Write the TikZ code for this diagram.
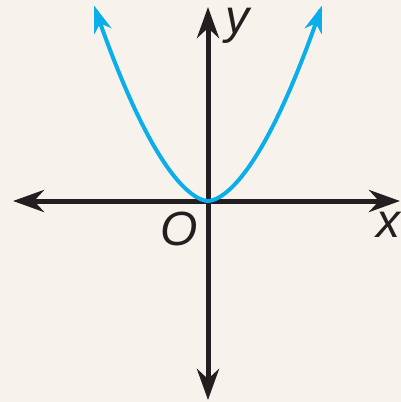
\documentclass[tikz,border=0pt]{standalone}
\usepackage{fontspec}
\setmainfont{Liberation Sans}
\usetikzlibrary{arrows.meta}
\definecolor{bgc}{HTML}{F7F3EC}
\definecolor{axc}{HTML}{231F20}
\definecolor{curvec}{HTML}{0AAEEA}
\begin{document}
\begin{tikzpicture}[x=1pt,y=-1pt,
  axis/.style={draw=axc,line width=5pt,{Stealth[length=31pt,width=22pt,inset=10pt]}-{Stealth[length=31pt,width=22pt,inset=10pt]}},
  curve/.style={draw=curvec,line width=4pt,{Stealth[length=27pt,width=18pt,inset=8pt]}-{Stealth[length=27pt,width=18pt,inset=8pt]}},
  lab/.style={text=axc,font=\fontsize{48}{48}\selectfont\itshape,inner sep=0pt}]
\fill[bgc] (0,0) rectangle (401,402);
\useasboundingbox (0,0) rectangle (401,402);
\coordinate (xl) at (13,201);
\coordinate (xr) at (400,201);
\coordinate (yt) at (208,7);
\coordinate (yb) at (208,400);
\draw[axis] (xl) -- (xr);
\draw[axis] (yb) -- (yt);
\draw[curve] plot[domain=-114:114,samples=120,smooth] ({208+\x},{201-0.0623*pow(abs(\x)+0.0001,1.7)});
\node[lab] (ylab) at (237,26) {y};
\node[lab] (olab) at (179,229) {O};
\node[lab] (xlab) at (388,225) {x};
\end{tikzpicture}
\end{document}
